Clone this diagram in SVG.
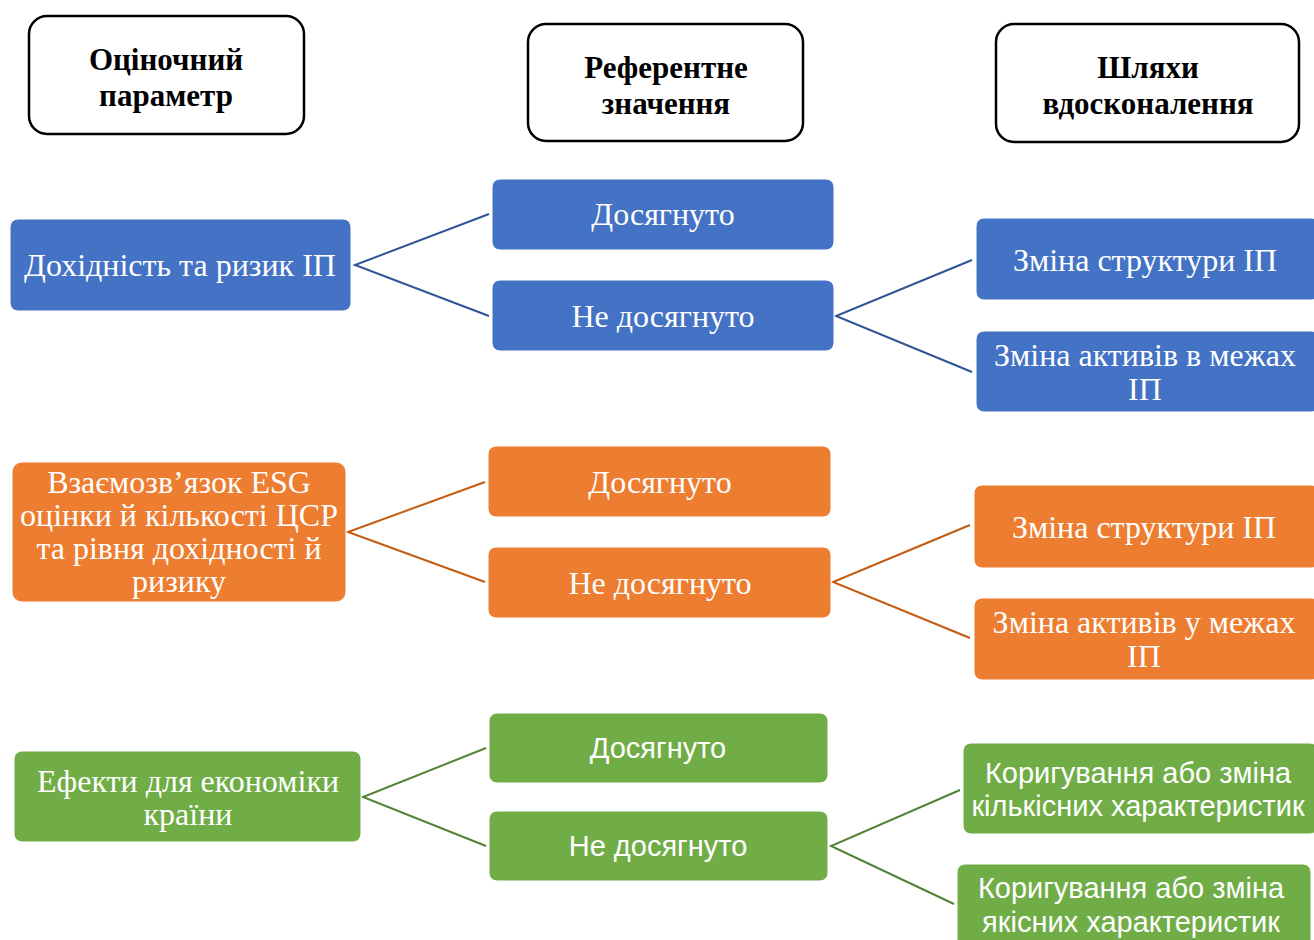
<svg xmlns="http://www.w3.org/2000/svg" width="1314" height="940" viewBox="0 0 1314 940">
<style>
.hdr{fill:#fff;stroke:#000;stroke-width:2.5}
.ht{font-family:"Liberation Serif",serif;font-weight:bold;font-size:31px;fill:#000;text-anchor:middle}
.b{fill:#4472C4;stroke:#fff;stroke-width:1}
.o{fill:#ED7D31;stroke:#fff;stroke-width:1}
.g{fill:#70AD47;stroke:#fff;stroke-width:1}
.st{font-family:"Liberation Serif",serif;font-size:32px;fill:#fff;text-anchor:middle}
.ss{font-family:"Liberation Sans",Arial,sans-serif;font-size:29px;fill:#fff;text-anchor:middle}
.lb{stroke:#2F5597;stroke-width:2;fill:none}
.lo{stroke:#C55A11;stroke-width:2;fill:none}
.lg{stroke:#548235;stroke-width:2;fill:none}
</style>
<rect width="1314" height="940" fill="#fff"/>
<g id="connectors">
<polyline class="lb" points="489,214 355,265 489,316"/>
<polyline class="lb" points="972,260 836,316 972,372"/>
<polyline class="lo" points="485,482 348,532 485,582"/>
<polyline class="lo" points="970,525 833,582 970,638"/>
<polyline class="lg" points="486,748 363,797 486,846"/>
<polyline class="lg" points="960,790 831,846 954,904"/>
</g>
<g id="h1"><rect class="hdr" x="29" y="16" width="275" height="118" rx="18"/><text class="ht" x="166" y="70">Оціночний</text><text class="ht" x="166" y="106">параметр</text></g>
<g id="h2"><rect class="hdr" x="528" y="24" width="275" height="117" rx="18"/><text class="ht" x="666" y="78">Референтне</text><text class="ht" x="666" y="114">значення</text></g>
<g id="h3"><rect class="hdr" x="996" y="24" width="303" height="118" rx="18"/><text class="ht" x="1148" y="78">Шляхи</text><text class="ht" x="1148" y="114">вдосконалення</text></g>

<g id="b1"><rect class="b" x="10" y="219" width="341" height="92" rx="8"/><text class="st" x="180" y="276">Дохідність та ризик ІП</text></g>
<g id="b2"><rect class="b" x="492" y="179" width="342" height="71" rx="8"/><text class="st" x="663" y="225">Досягнуто</text></g>
<g id="b3"><rect class="b" x="492" y="280" width="342" height="71" rx="8"/><text class="st" x="663" y="327">Не досягнуто</text></g>
<g id="b4"><rect class="b" x="976" y="218" width="344" height="82" rx="8"/><text class="st" x="1145" y="271">Зміна структури ІП</text></g>
<g id="b5"><rect class="b" x="976" y="331" width="344" height="81" rx="8"/><text class="st" x="1145" y="366">Зміна активів в межах</text><text class="st" x="1145" y="400">ІП</text></g>

<g id="o1"><rect class="o" x="12" y="462" width="334" height="140" rx="10"/><text class="st" x="179" y="493">Взаємозв’язок ESG</text><text class="st" x="179" y="526">оцінки й кількості ЦСР</text><text class="st" x="179" y="559">та рівня дохідності й</text><text class="st" x="179" y="592">ризику</text></g>
<g id="o2"><rect class="o" x="488" y="446" width="343" height="71" rx="8"/><text class="st" x="660" y="493">Досягнуто</text></g>
<g id="o3"><rect class="o" x="488" y="547" width="343" height="71" rx="8"/><text class="st" x="660" y="594">Не досягнуто</text></g>
<g id="o4"><rect class="o" x="974" y="485" width="346" height="83" rx="8"/><text class="st" x="1144" y="538">Зміна структури ІП</text></g>
<g id="o5"><rect class="o" x="974" y="598" width="346" height="82" rx="8"/><text class="st" x="1144" y="633">Зміна активів у межах</text><text class="st" x="1144" y="667">ІП</text></g>

<g id="g1"><rect class="g" x="14" y="751" width="347" height="91" rx="8"/><text class="st" x="188" y="792">Ефекти для економіки</text><text class="st" x="188" y="825">країни</text></g>
<g id="g2"><rect class="g" x="489" y="713" width="339" height="70" rx="8"/><text class="ss" x="658" y="758">Досягнуто</text></g>
<g id="g3"><rect class="g" x="489" y="811" width="339" height="70" rx="8"/><text class="ss" x="658" y="856">Не досягнуто</text></g>
<g id="g4"><rect class="g" x="963" y="743" width="355" height="91" rx="8"/><text class="ss" x="1138" y="783">Коригування або зміна</text><text class="ss" x="1138" y="816">кількісних характеристик</text></g>
<g id="g5"><rect class="g" x="957" y="864" width="354" height="90" rx="8"/><text class="ss" x="1131" y="898">Коригування або зміна</text><text class="ss" x="1131" y="932">якісних характеристик</text></g>
</svg>
